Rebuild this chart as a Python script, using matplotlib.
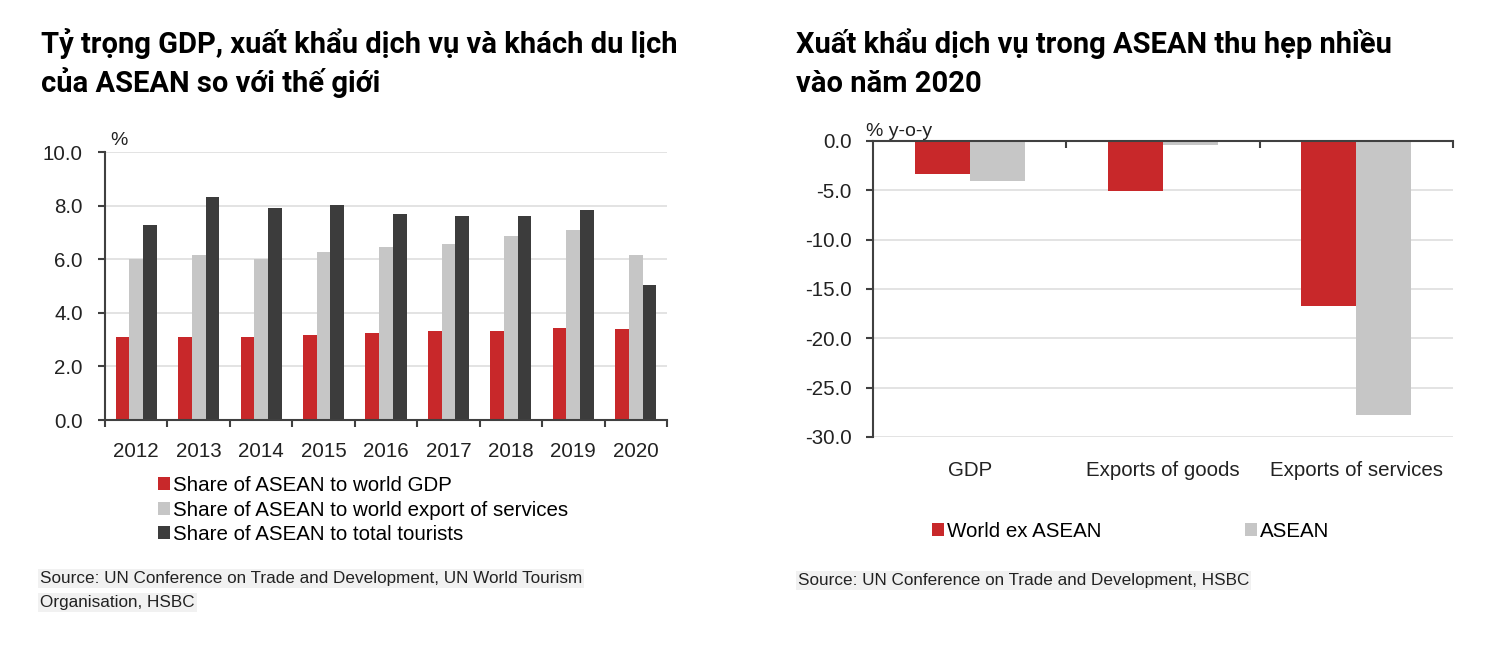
import numpy as np
import matplotlib
matplotlib.use("Agg")
from matplotlib import pyplot as plt
from matplotlib.ticker import MultipleLocator, FixedLocator, FormatStrFormatter

# ---- data ----
years = ['2012', '2013', '2014', '2015', '2016', '2017', '2018', '2019', '2020']
share_gdp = [3.1, 3.1, 3.1, 3.17, 3.25, 3.32, 3.32, 3.44, 3.39]
share_services = [6.01, 6.14, 6.01, 6.26, 6.46, 6.55, 6.88, 7.08, 6.14]
share_tourists = [7.29, 8.32, 7.91, 8.04, 7.70, 7.63, 7.63, 7.85, 5.04]

categories = ['GDP', 'Exports of goods', 'Exports of services']
world_ex_asean = [-3.33, -5.04, -16.68]
asean = [-4.03, -0.44, -27.8]

RED = '#C8282A'
GREY = '#C6C6C6'
DARK = '#3C3C3C'
GRID = '#DEDEDE'
SPINE = '#404040'
TXT = '#222222'

narrow = ['Liberation Sans', 'DejaVu Sans']
title_font = ['Roboto', 'Noto Sans', 'DejaVu Sans']
FS = 14.8

W, H = 1500, 655
fig = plt.figure(figsize=(W / 100, H / 100), dpi=100)

def fx(px):
    return px / W

def fy(py):
    return 1 - py / H

def axes_px(left, top, right, bottom):
    return fig.add_axes([fx(left), fy(bottom), (right - left) / W, (bottom - top) / H])

def style_axes(ax, ypad):
    for s in ['top', 'right']:
        ax.spines[s].set_visible(False)
    for s in ['left', 'bottom']:
        ax.spines[s].set_color(SPINE)
        ax.spines[s].set_linewidth(1.5)
    ax.grid(axis='y', color=GRID, linewidth=1.2)
    ax.set_axisbelow(True)
    ax.tick_params(axis='y', direction='out', length=5, width=1.5, color=SPINE,
                   pad=ypad, labelsize=FS, labelcolor=TXT)
    for lab in ax.get_yticklabels():
        lab.set_family(narrow)

# ---- left chart ----
ax1 = axes_px(105, 152, 667, 420)
x = np.arange(len(years))
bw = 0.22
ax1.bar(x - bw, share_gdp, bw, color=RED, label='Share of ASEAN to world GDP')
ax1.bar(x, share_services, bw, color=GREY, label='Share of ASEAN to world export of services')
ax1.bar(x + bw, share_tourists, bw, color=DARK, label='Share of ASEAN to total tourists')
ax1.set_xlim(-0.5, len(years) - 0.5)
ax1.set_ylim(0, 10)
ax1.yaxis.set_major_locator(MultipleLocator(2))
ax1.yaxis.set_major_formatter(FormatStrFormatter('%.1f'))
ax1.set_xticks(x)
ax1.set_xticklabels(years)
ax1.xaxis.set_minor_locator(FixedLocator(np.arange(-0.5, len(years), 1.0)))
ax1.tick_params(axis='x', which='major', length=0, pad=16, labelsize=FS, labelcolor=TXT)
ax1.tick_params(axis='x', which='minor', direction='out', length=5, width=1.5, color=SPINE)
style_axes(ax1, 11)
for lab in ax1.get_xticklabels():
    lab.set_family(narrow)

fig.text(fx(110), fy(145), '%', fontsize=14, family=narrow, color=TXT, va='baseline')

h1, l1 = ax1.get_legend_handles_labels()
fig.legend(h1, l1, loc='upper left', bbox_to_anchor=(fx(158), fy(476)),
           frameon=False, prop={'family': narrow, 'size': FS},
           handlelength=0.58, handleheight=0.58, handletextpad=0.15,
           labelspacing=0.27, borderpad=0, borderaxespad=0)

# ---- right chart ----
ax2 = axes_px(873, 141, 1453, 437)
xc = np.arange(len(categories))
bw2 = 0.285
ax2.bar(xc - bw2 / 2, world_ex_asean, bw2, color=RED, label='World ex ASEAN')
ax2.bar(xc + bw2 / 2, asean, bw2, color=GREY, label='ASEAN')
ax2.set_xlim(-0.5, len(categories) - 0.5)
ax2.set_ylim(-30, 0)
ax2.yaxis.set_major_locator(MultipleLocator(5))
ax2.yaxis.set_major_formatter(FormatStrFormatter('%.1f'))
style_axes(ax2, 10.5)
ax2.spines['bottom'].set_visible(False)
ax2.spines['top'].set_visible(True)
ax2.spines['top'].set_color(SPINE)
ax2.spines['top'].set_linewidth(1.5)
ax2.set_xticks(xc)
ax2.set_xticklabels(categories)
ax2.xaxis.set_minor_locator(FixedLocator([0.5, 1.5, 2.5]))
ax2.tick_params(axis='x', which='major', bottom=True, top=False, length=0, pad=17,
                labelsize=FS, labelcolor=TXT)
ax2.tick_params(axis='x', which='minor', bottom=False, top=True, direction='in',
                length=5, width=1.5, color=SPINE)
for lab in ax2.get_xticklabels():
    lab.set_family(narrow)

fig.text(fx(866), fy(136), '% y-o-y', fontsize=14, family=narrow, color=TXT, va='baseline')

h2, l2 = ax2.get_legend_handles_labels()
fig.legend(h2, l2, loc='upper left', bbox_to_anchor=(fx(932), fy(522)), ncol=2,
           frameon=False, prop={'family': narrow, 'size': FS},
           handlelength=0.58, handleheight=0.58, handletextpad=0.15,
           columnspacing=7.0, borderpad=0, borderaxespad=0)

# ---- titles ----
TS = 21
fig.text(fx(41), fy(53), 'Tỷ trọng GDP, xuất khẩu dịch vụ và khách du lịch',
         fontsize=TS, weight='bold', family=title_font, va='baseline')
fig.text(fx(41), fy(92), 'của ASEAN so với thế giới',
         fontsize=TS, weight='bold', family=title_font, va='baseline')
fig.text(fx(796), fy(53), 'Xuất khẩu dịch vụ trong ASEAN thu hẹp nhiều',
         fontsize=TS, weight='bold', family=title_font, va='baseline')
fig.text(fx(796), fy(92), 'vào năm 2020',
         fontsize=TS, weight='bold', family=title_font, va='baseline')

# ---- sources ----
src_box = dict(facecolor='#F1F1F1', edgecolor='none', pad=1.5)
fig.text(fx(40), fy(583), 'Source: UN Conference on Trade and Development, UN World Tourism',
         fontsize=12.3, family=narrow, color=TXT, va='baseline', bbox=src_box)
fig.text(fx(40), fy(607), 'Organisation, HSBC',
         fontsize=12.3, family=narrow, color=TXT, va='baseline', bbox=src_box)
fig.text(fx(798), fy(585), 'Source: UN Conference on Trade and Development, HSBC',
         fontsize=12.3, family=narrow, color=TXT, va='baseline', bbox=src_box)

plt.savefig('out.png', dpi=100)
